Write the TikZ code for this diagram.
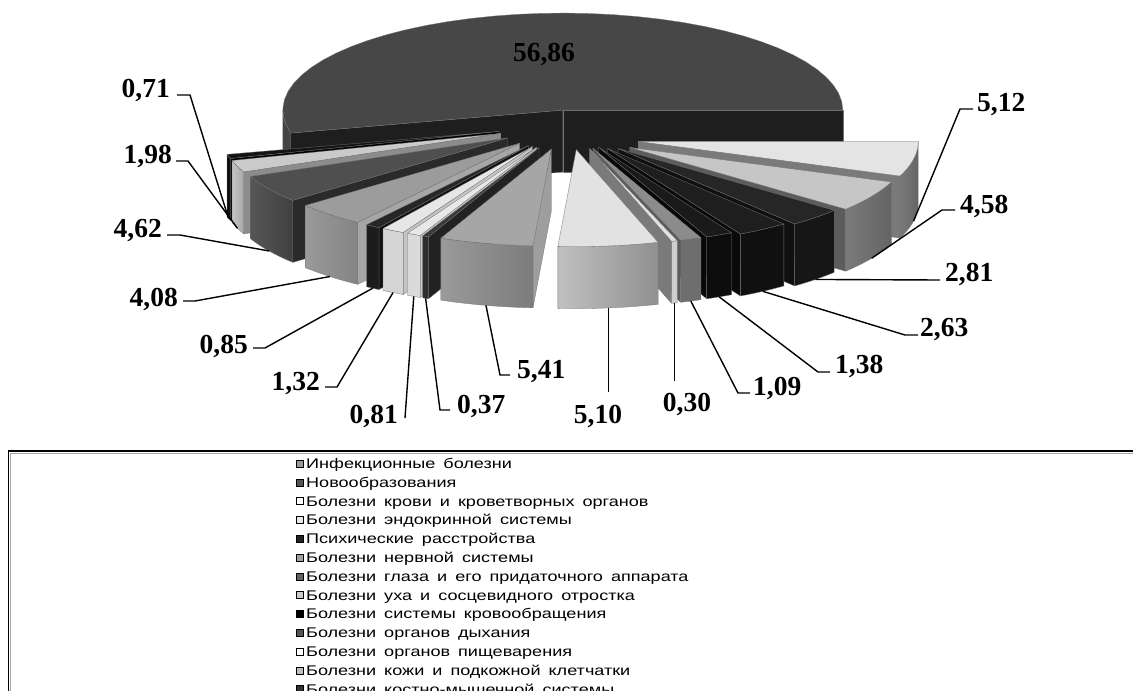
\documentclass[tikz,border=0pt]{standalone}
\usepackage{fontspec}
\setmainfont{Liberation Serif}
\newfontfamily\legfont[FakeStretch=1.29,WordSpace=1.6]{Liberation Sans}
\newfontfamily\lblfont{Liberation Serif}
\def\pXo{568}\def\pYo{125}\def\pSX{280}\def\pSY{97}\def\pH{62}
\newcommand\psetup[4]{%
\pgfmathsetmacro\sMid{(#1+#2)/2}%
\pgfmathsetmacro\sAx{\pXo+\pSX*#3*cos(\sMid)}%
\pgfmathsetmacro\sAy{\pYo-\pSY*#3*sin(\sMid)+#4}%
\pgfmathsetmacro\sBx{\sAx+\pSX*cos(#1)}%
\pgfmathsetmacro\sBy{\sAy-\pSY*sin(#1)}%
\pgfmathsetmacro\sCx{\sAx+\pSX*cos(#2)}%
\pgfmathsetmacro\sCy{\sAy-\pSY*sin(#2)}}
\newcommand\pstartface[1]{\definecolor{tmpc}{HTML}{#1}\filldraw[pface,fill=tmpc] (\sAx,\sAy) -- (\sBx,\sBy) -- (\sBx,\sBy+\pH) -- (\sAx,\sAy+\pH) -- cycle;}
\newcommand\pendface[1]{\definecolor{tmpc}{HTML}{#1}\filldraw[pface,fill=tmpc] (\sAx,\sAy) -- (\sCx,\sCy) -- (\sCx,\sCy+\pH) -- (\sAx,\sAy+\pH) -- cycle;}
\newcommand\pside[3]{\definecolor{tmpc}{HTML}{#3}\filldraw[pface,fill=tmpc] plot[domain=#1:#2,samples=24,variable=\t] ({\sAx+\pSX*cos(\t)},{\sAy-\pSY*sin(\t)}) -- plot[domain=#2:#1,samples=24,variable=\t] ({\sAx+\pSX*cos(\t)},{\sAy-\pSY*sin(\t)+\pH}) -- cycle;}
\newcommand\psideg[4]{\definecolor{tmpa}{HTML}{#3}\definecolor{tmpb}{HTML}{#4}\path[pface,left color=tmpa,right color=tmpb] plot[domain=#1:#2,samples=24,variable=\t] ({\sAx+\pSX*cos(\t)},{\sAy-\pSY*sin(\t)}) -- plot[domain=#2:#1,samples=24,variable=\t] ({\sAx+\pSX*cos(\t)},{\sAy-\pSY*sin(\t)+\pH}) -- cycle;}
\newcommand\ptop[3]{\definecolor{tmpc}{HTML}{#3}\filldraw[pface,fill=tmpc] (\sAx,\sAy) -- plot[domain=#1:#2,samples=40,variable=\t] ({\sAx+\pSX*cos(\t)},{\sAy-\pSY*sin(\t)}) -- cycle;}
% #1 a1 #2 a2 #3 dy #4 top #5 side #6 face #7 start #8 end
\newcommand\pslice[8]{\psetup{#1}{#2}{0.255}{#3}%
\ifnum#7=1 \pstartface{#6}\fi
\ifnum#8=1 \pendface{#6}\fi
\pside{#1}{#2}{#5}\ptop{#1}{#2}{#4}}
% shaded side: #5 left side colour #6 right side colour #7 face #8 start #9 end
\newcommand\psliceg[9]{\psetup{#1}{#2}{0.255}{#3}%
\ifnum#8=1 \pstartface{#7}\fi
\ifnum#9=1 \pendface{#7}\fi
\psideg{#1}{#2}{#5}{#6}\ptop{#1}{#2}{#4}}
\newcommand\panch[4]{\pgfmathsetmacro\sMid{(#2+#3)/2}\coordinate (#1) at ({\pXo+\pSX*1.255*cos(\sMid)},{\pYo-\pSY*1.255*sin(\sMid)+\pH+#4});}
\definecolor{lg1}{HTML}{999999}\definecolor{lg2}{HTML}{555555}\definecolor{lg3}{HTML}{FFFFFF}
\definecolor{lg4}{HTML}{E8E8E8}\definecolor{lg5}{HTML}{222222}\definecolor{lg6}{HTML}{A0A0A0}
\definecolor{lg7}{HTML}{626262}\definecolor{lg8}{HTML}{CCCCCC}\definecolor{lg9}{HTML}{000000}
\definecolor{lg10}{HTML}{555555}\definecolor{lg11}{HTML}{FFFFFF}\definecolor{lg12}{HTML}{C0C0C0}
\definecolor{lg13}{HTML}{333333}
\begin{document}
\begin{tikzpicture}[x=1pt,y=-1pt,
  pface/.style={draw=black!55,line width=0.3pt,line join=round},
  lead/.style={draw=black,line width=1.4pt},
  lbl/.style={font=\lblfont\bfseries\fontsize{27.5}{30}\selectfont,inner sep=0pt},
  legtext/.style={font=\legfont\fontsize{14}{16}\selectfont,inner sep=0pt,anchor=base west},
  legmark/.style={draw=black,line width=0.6pt,minimum size=7pt,inner sep=0pt}]
\useasboundingbox (0,0) rectangle (1133,691);
\fill[white] (0,0) rectangle (1133,691);
% legend frame
\draw[black!35,line width=1pt] (10.5,700) -- (10.5,453.5) -- (1140,453.5);
\draw[black,line width=1.8pt] (8.5,700) -- (8.5,451) -- (1140,451);
% big slice
\psetup{0}{193.7}{0.155}{0}
\pstartface{1E1E1E}
\pendface{1E1E1E}
\pside{180}{193.7}{444444}
\ptop{0}{193.7}{474747}
% left group
\pslice{193.70}{196.25}{0}{151515}{0D0D0D}{000000}{0}{1}
\psliceg{196.25}{203.38}{0}{CACACA}{C4C4C4}{A8A8A8}{8C8C8C}{0}{1}
\psliceg{203.38}{220.01}{0}{4F4F4F}{565656}{404040}{2A2A2A}{0}{1}
\psliceg{220.01}{234.70}{0}{9C9C9C}{9A9A9A}{848484}{A6A6A6}{0}{1}
\pslice{234.70}{237.76}{0}{262626}{1C1C1C}{111111}{0}{1}
\pslice{237.76}{242.51}{0}{E6E6E6}{D4D4D4}{C4C4C4}{0}{1}
\pslice{242.51}{245.43}{0}{E8E8E8}{DADADA}{C8C8C8}{0}{1}
\pslice{245.43}{246.76}{0}{3A3A3A}{2E2E2E}{222222}{0}{1}
\psliceg{246.76}{266.24}{0}{A6A6A6}{9A9A9A}{7C7C7C}{9E9E9E}{0}{1}
% right group
\psliceg{339.14}{360}{12}{E4E4E4}{7A7A7A}{646464}{7A7A7A}{1}{0}
\psliceg{320.47}{339.14}{10}{C6C6C6}{7A7A7A}{646464}{5C5C5C}{1}{0}
\pslice{309.02}{320.47}{6}{262626}{161616}{101010}{1}{0}
\pslice{298.31}{309.02}{3}{1E1E1E}{101010}{0A0A0A}{1}{0}
\pslice{292.68}{298.31}{0}{1A1A1A}{0C0C0C}{080808}{1}{0}
\pslice{288.24}{292.68}{0}{8C8C8C}{6E6E6E}{5A5A5A}{1}{0}
\pslice{287.02}{288.24}{0}{E0E0E0}{CFCFCF}{7A7A7A}{1}{0}
\psliceg{266.24}{287.02}{0}{E2E2E2}{C0C0C0}{909090}{B0B0B0}{0}{0}
% anchors on the slices
\panch{a071}{193.70}{196.25}{0}
\panch{a198}{196.25}{203.38}{0}
\panch{a462}{203.38}{220.01}{0}
\panch{a408}{220.01}{234.70}{0}
\panch{a085}{234.70}{237.76}{0}
\panch{a132}{237.76}{242.51}{0}
\panch{a081}{242.51}{245.43}{0}
\panch{a037}{245.43}{246.76}{0}
\panch{a541}{246.76}{266.24}{0}
\panch{a510}{266.24}{287.02}{0}
\panch{a030}{287.02}{288.24}{0}
\panch{a109}{288.24}{292.68}{0}
\panch{a138}{292.68}{298.31}{0}
\panch{a263}{298.31}{309.02}{3}
\panch{a281}{309.02}{320.47}{6}
\panch{a458}{320.47}{339.14}{10}
\panch{a512}{339.14}{360}{12}
% labels
\node[lbl,anchor=base] (l5686) at (544,61) {56,86};
\node[lbl,anchor=base east] (l071) at (170,97) {0,71};
\node[lbl,anchor=base east] (l198) at (172,163) {1,98};
\node[lbl,anchor=base east] (l462) at (162,237) {4,62};
\node[lbl,anchor=base east] (l408) at (178,306) {4,08};
\node[lbl,anchor=base east] (l085) at (248,353) {0,85};
\node[lbl,anchor=base east] (l132) at (320,390) {1,32};
\node[lbl,anchor=base east] (l081) at (398,423) {0,81};
\node[lbl,anchor=base west] (l037) at (457,413) {0,37};
\node[lbl,anchor=base west] (l541) at (517,378) {5,41};
\node[lbl,anchor=base] (l510) at (598,423) {5,10};
\node[lbl,anchor=base] (l030) at (687,411) {0,30};
\node[lbl,anchor=base west] (l109) at (753,395) {1,09};
\node[lbl,anchor=base west] (l138) at (835,373) {1,38};
\node[lbl,anchor=base west] (l263) at (920,336) {2,63};
\node[lbl,anchor=base west] (l281) at (945,281) {2,81};
\node[lbl,anchor=base west] (l458) at (960,213) {4,58};
\node[lbl,anchor=base west] (l512) at (977,111) {5,12};
% leader corners
\coordinate (k071) at (190,95);  \coordinate (s071) at (177,95);
\coordinate (k198) at (188,161); \coordinate (s198) at (176,161);
\coordinate (k462) at (180,235); \coordinate (s462) at (167,235);
\coordinate (k408) at (195,301); \coordinate (s408) at (183,301);
\coordinate (k085) at (265,348); \coordinate (s085) at (253,348);
\coordinate (k132) at (337,387); \coordinate (s132) at (325,387);
\coordinate (k081) at (405,418);
\coordinate (k037) at (440,410); \coordinate (s037) at (450,410);
\coordinate (k541) at (500,375); \coordinate (s541) at (510,375);
\coordinate (k510) at (603,392);
\coordinate (k030) at (673,381);
\coordinate (k109) at (738,393); \coordinate (s109) at (750,393);
\coordinate (k138) at (818,372); \coordinate (s138) at (830,372);
\coordinate (k263) at (905,335); \coordinate (s263) at (918,335);
\coordinate (s281) at (940,280);
\coordinate (k458) at (942,210); \coordinate (s458) at (955,210);
\coordinate (k512) at (960,109); \coordinate (s512) at (973,109);
\draw[lead] (a071) -- (k071) -- (s071);
\draw[lead] (a198) -- (k198) -- (s198);
\draw[lead] (a462) -- (k462) -- (s462);
\draw[lead] (a408) -- (k408) -- (s408);
\draw[lead] (a085) -- (k085) -- (s085);
\draw[lead] (a132) -- (k132) -- (s132);
\draw[lead] (a081) -- (k081);
\draw[lead] (a037) -- (k037) -- (s037);
\draw[lead] (a541) -- (k541) -- (s541);
\draw[lead] (a510) -- (a510 |- k510);
\draw[lead] (a030) -- (a030 |- k030);
\draw[lead] (a109) -- (k109) -- (s109);
\draw[lead] (a138) -- (k138) -- (s138);
\draw[lead] (a263) -- (k263) -- (s263);
\draw[lead] (a281) -- (s281);
\draw[lead] (a458) -- (k458) -- (s458);
\draw[lead] (a512) -- (k512) -- (s512);
% legend entries
\foreach \i/\txt in {1/Инфекционные болезни, 2/Новообразования, 3/Болезни крови и кроветворных органов, 4/Болезни эндокринной системы, 5/Психические расстройства, 6/Болезни нервной системы, 7/Болезни глаза и его придаточного аппарата, 8/Болезни уха и сосцевидного отростка, 9/Болезни системы кровообращения, 10/Болезни органов дыхания, 11/Болезни органов пищеварения, 12/Болезни кожи и подкожной клетчатки, 13/Болезни костно-мышечной системы}{
  \pgfmathsetmacro\ly{463.5+18.8*(\i-1)}
  \node[legmark,fill=lg\i] (m\i) at (300,\ly) {};
  \node[legtext] (g\i) at (306,\ly+5) {\txt};
}
\end{tikzpicture}
\end{document}
